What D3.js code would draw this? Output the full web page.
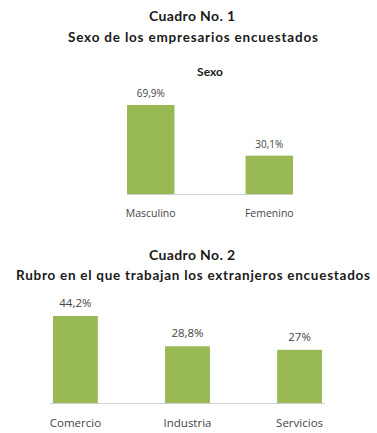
<!DOCTYPE html>
<html>
  <head>
    <meta charset="utf-8">
    <title>Cuadros</title>
    <script src="https://cdn.jsdelivr.net/npm/d3@7"></script>
    <style>
      body { margin: 0; background: #fff; }
      .title { font-family: "Lato", sans-serif; font-weight: bold; fill: #1a1a1a; text-anchor: middle; }
      .lbl { font-family: "Open Sans", sans-serif; fill: #454545; text-anchor: middle; }
    </style>
  </head>
  <body>
    <svg id="chart" width="377" height="433"></svg>
    <script>
      // data
      sexCats = ["Masculino", "Femenino"];
      sexVals = [69.9, 30.1];
      sexLabels = ["69,9%", "30,1%"];

      rubroCats = ["Comercio", "Industria", "Servicios"];
      rubroVals = [44.2, 28.8, 27];
      rubroLabels = ["44,2%", "28,8%", "27%"];

      green = "#98b954";
      svg = d3.select("#chart");

      // titles
      svg.append("text").attr("class", "title").attr("x", 192).attr("y", 21)
        .style("font-size", "14px").attr("textLength", 86).attr("lengthAdjust", "spacing")
        .text("Cuadro No. 1");
      svg.append("text").attr("class", "title").attr("x", 193).attr("y", 42)
        .style("font-size", "13.5px").attr("textLength", 250).attr("lengthAdjust", "spacing")
        .text("Sexo de los empresarios encuestados");
      svg.append("text").attr("class", "title").attr("x", 210).attr("y", 76)
        .style("font-size", "12px").text("Sexo");

      svg.append("text").attr("class", "title").attr("x", 192).attr("y", 260)
        .style("font-size", "14px").attr("textLength", 86).attr("lengthAdjust", "spacing")
        .text("Cuadro No. 2");
      svg.append("text").attr("class", "title").attr("x", 193).attr("y", 280)
        .style("font-size", "13.5px").attr("textLength", 354).attr("lengthAdjust", "spacing")
        .text("Rubro en el que trabajan los extranjeros encuestados");

      function drawBars(cats, vals, labels, xr, yBase, yTop, yMax, opt) {
        let x = d3.scaleBand().domain(cats).range(xr).paddingInner(0.6).paddingOuter(0);
        let y = d3.scaleLinear().domain([0, yMax]).range([yBase, yTop]);
        let g = svg.append("g");

        g.append("line")
          .attr("x1", xr[0] - opt.ext).attr("x2", xr[1] + opt.ext)
          .attr("y1", y(0) + 0.5).attr("y2", y(0) + 0.5)
          .attr("stroke", "#d0d0d0").attr("stroke-width", 1);

        g.selectAll(".bar").data(vals).enter().append("rect")
          .attr("x", (d, i) => x(cats[i]))
          .attr("width", x.bandwidth())
          .attr("y", d => y(d))
          .attr("height", d => y(0) - y(d))
          .attr("fill", green);

        g.selectAll(".val").data(vals).enter().append("text")
          .attr("class", "lbl")
          .attr("x", (d, i) => x(cats[i]) + x.bandwidth() / 2)
          .attr("y", d => y(d) - opt.valGap)
          .style("font-size", opt.valSize)
          .text((d, i) => labels[i]);

        g.selectAll(".cat").data(cats).enter().append("text")
          .attr("class", "lbl")
          .attr("x", d => x(d) + x.bandwidth() / 2)
          .attr("y", y(0) + opt.catGap)
          .style("font-size", opt.catSize)
          .text(d => d);
      }

      drawBars(sexCats, sexVals, sexLabels, [127, 293], 194, 104.9, 70,
        {ext: 0, valGap: 8, valSize: "10px", catGap: 23, catSize: "10.5px"});
      drawBars(rubroCats, rubroVals, rubroLabels, [53, 322], 403, 314.4, 45,
        {ext: 3, valGap: 9, valSize: "11.5px", catGap: 24, catSize: "11.5px"});
    </script>
  </body>
</html>
